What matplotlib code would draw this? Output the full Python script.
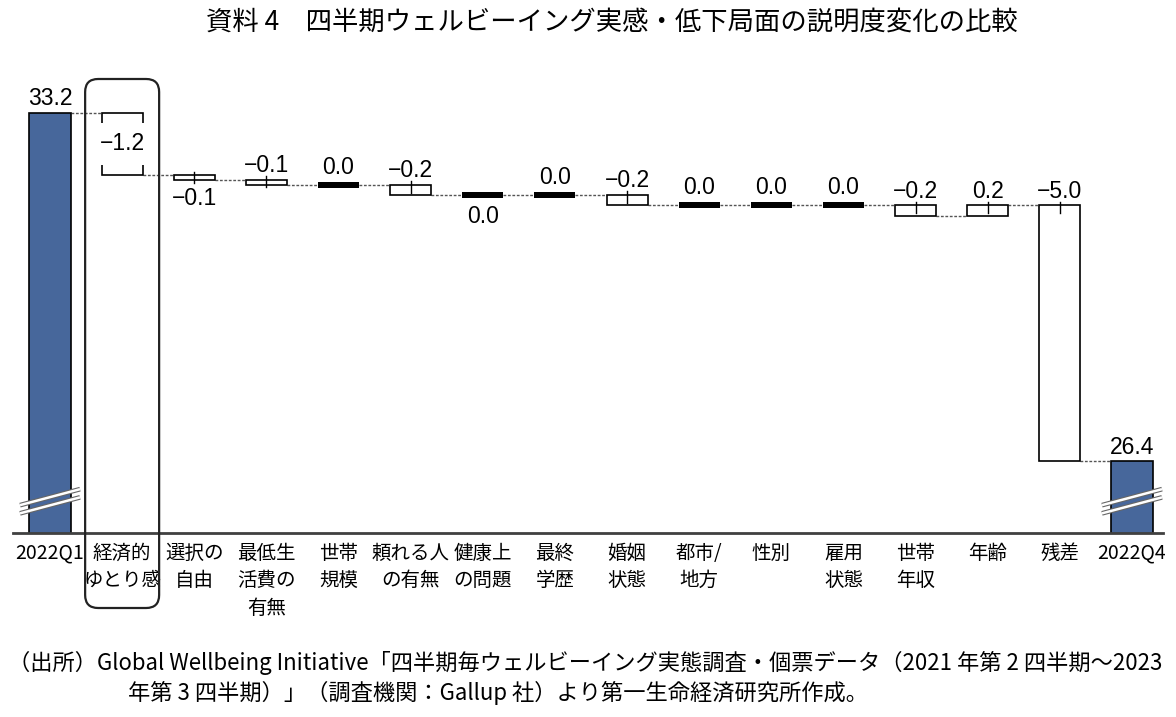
import matplotlib
matplotlib.use('Agg')
import numpy as np
import matplotlib.pyplot as plt
from matplotlib.patches import FancyBboxPatch

plt.rcParams['font.family'] = ['Noto Sans CJK JP', 'DejaVu Sans']

# data
categories = ['2022Q1', '経済的\nゆとり感', '選択の\n自由', '最低生\n活費の\n有無', '世帯\n規模',
              '頼れる人\nの有無', '健康上\nの問題', '最終\n学歴', '婚姻\n状態', '都市/\n地方',
              '性別', '雇用\n状態', '世帯\n年収', '年齢', '残差', '2022Q4']
start_value = 33.2
changes = [-1.2, -0.1, -0.1, 0.0, -0.2, 0.0, 0.0, -0.2, 0.0, 0.0, 0.0, -0.2, 0.2, -5.0]
end_value = 26.4

title = '資料 4　四半期ウェルビーイング実感・低下局面の説明度変化の比較'
note1 = '（出所）Global Wellbeing Initiative「四半期毎ウェルビーイング実態調査・個票データ（2021 年第 2 四半期～2023'
note2 = '年第 3 四半期）」（調査機関：Gallup 社）より第一生命経済研究所作成。'

# style
W, H = 1176, 717
BLUE = '#47679B'
BAR_W = 0.57
NUM_FONT = 'Liberation Sans'
LABEL_BELOW = {2, 6}     # bars whose value label sits under the box
LABEL_INSIDE = {1}


def fmt(v):
    s = f'{abs(v):.1f}'
    return '−' + s if v < -1e-9 else s


fig = plt.figure(figsize=(W / 100, H / 100), dpi=100)
ax = fig.add_axes([13 / W, 1 - 533 / H, 1150 / W, 433 / H])
ax.set_xlim(-0.513, 15.43)
ax.set_ylim(25.0, 25.0 + 433 / 51.2)
n = len(categories)
x = np.arange(n)

# totals
ax.bar([0, n - 1], [start_value, end_value], width=BAR_W, color=BLUE,
       edgecolor='black', linewidth=1.2, zorder=2)

# running levels
levels = [start_value]
for v in changes:
    levels.append(levels[-1] + v)

for k, v in enumerate(changes):
    i = k + 1
    a, b = levels[k], levels[k + 1]
    lo, hi = min(a, b), max(a, b)
    if abs(v) < 1e-9:
        ax.bar(i, 0.12, bottom=a - 0.06, width=BAR_W, color='black', zorder=2)
        lo, hi = a - 0.06, a + 0.06
    else:
        ax.bar(i, hi - lo, bottom=lo, width=BAR_W, facecolor='white',
               edgecolor='black', linewidth=1.2, zorder=2)
        if i not in LABEL_INSIDE:
            if i in LABEL_BELOW:
                ax.plot([i, i], [lo - 0.07, lo + 0.15], color='black', lw=1, zorder=3)
            else:
                ax.plot([i, i], [hi + 0.07, hi - 0.15], color='black', lw=1, zorder=3)
    if i in LABEL_INSIDE:
        ax.text(i, (lo + hi) / 2, fmt(v), ha='center', va='center', fontsize=16.5,
                family=NUM_FONT, zorder=4,
                bbox=dict(boxstyle='square,pad=0.4', fc='white', ec='none'))
    elif i in LABEL_BELOW:
        ax.annotate(fmt(v), (i, lo), xytext=(0, -5), textcoords='offset points',
                    ha='center', va='top', fontsize=16.5, family=NUM_FONT)
    else:
        ax.annotate(fmt(v), (i, hi), xytext=(0, 2), textcoords='offset points',
                    ha='center', va='bottom', fontsize=16.5, family=NUM_FONT)

# total labels
for i, v in [(0, start_value), (n - 1, end_value)]:
    ax.annotate(fmt(v), (i, v), xytext=(0, 2), textcoords='offset points',
                ha='center', va='bottom', fontsize=16.5, family=NUM_FONT)

# dotted connectors
conn = levels + [end_value]
for i in range(n - 1):
    ax.plot([i + BAR_W / 2, i + 1 - BAR_W / 2], [conn[i], conn[i]], color='#555555',
            lw=1, ls=(0, (2, 1.2)), zorder=1)

# axis break marks on the total bars
yc, dx, dy = 25.62, 0.416, 0.156
for i in [0, n - 1]:
    for off in (-0.08, 0.08):
        xs = [i - dx, i + dx]
        ys = [yc - dy + off, yc + dy + off]
        ax.plot(xs, ys, color='#666666', lw=3.4, solid_capstyle='butt', zorder=5, clip_on=False)
        ax.plot(xs, ys, color='white', lw=1.8, solid_capstyle='butt', zorder=6, clip_on=False)

for s in ['left', 'right', 'top']:
    ax.spines[s].set_visible(False)
ax.spines['bottom'].set_linewidth(2)
ax.spines['bottom'].set_color('#404040')
ax.set_yticks([])
ax.set_xticks(x, categories, fontsize=14, linespacing=1.4)
ax.tick_params(axis='x', length=0, pad=7)

# highlight frame around the first factor, in pixel coords
over = fig.add_axes([0, 0, 1, 1])
over.set_xlim(0, W)
over.set_ylim(0, H)
over.axis('off')
cx = ax.transData.transform((1, 30))[0]
over.add_patch(FancyBboxPatch((cx - 37, H - 608), 74, 529,
                              boxstyle='round,pad=0,rounding_size=13',
                              fill=False, ec='#222222', lw=1.6))

# title and source note
tt = fig.text(612 / W, 1 - 22 / H, title, ha='center', va='center', fontsize=18)
t1 = fig.text(8 / W, 1 - 663 / H, note1, ha='left', va='center', fontsize=15)
t2 = fig.text(128 / W, 1 - 693 / H, note2, ha='left', va='center', fontsize=15)
r = fig.canvas.get_renderer()
tt.set_fontsize(18 * 811 / tt.get_window_extent(r).width)
size = 15 * 1155 / t1.get_window_extent(r).width
t1.set_fontsize(size)
t2.set_fontsize(size)

fig.savefig('out.png', dpi=100)
